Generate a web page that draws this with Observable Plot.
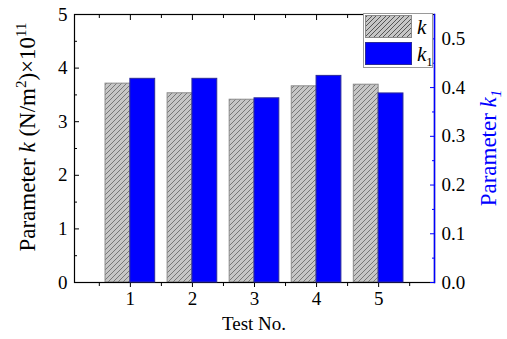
<!DOCTYPE html>
<html><head><meta charset="utf-8">
<script src="https://cdn.jsdelivr.net/npm/d3@7"></script>
<script src="https://cdn.jsdelivr.net/npm/@observablehq/plot@0.6"></script>
<style>
body{margin:0;background:#fff}
#c{position:relative;width:507px;height:339px;font-family:"Liberation Serif",serif}
#c svg{position:absolute;left:0;top:0}
#legend{position:absolute;left:363px;top:13px;width:70px;height:55px;border:1px solid #9a9a9a;background:#fff;box-sizing:border-box}
#legend .sw{position:absolute;left:1px;width:47px;height:23px;box-sizing:border-box}
#legend .lb{position:absolute;left:53px;font-size:21px;font-style:italic;line-height:20px}
</style></head><body>
<div id="c"><div id="legend"></div></div>
<script>
const tests = [1, 2, 3, 4, 5];
const kValues = [3.71, 3.53, 3.41, 3.66, 3.69];
const k1Values = [0.418, 0.418, 0.378, 0.424, 0.388];
const leftTicks = [0, 1, 2, 3, 4, 5];
const leftMinor = [0.5, 1.5, 2.5, 3.5, 4.5];
const rightTicks = [0, 0.1, 0.2, 0.3, 0.4, 0.5];
const rightMinor = [0.05, 0.15, 0.25, 0.35, 0.45];
const xMinor = [0.5, 1.5, 2.5, 3.5, 4.5, 5.5];

const kData = tests.map((t, i) => ({t, v: kValues[i]}));
const k1Data = tests.map((t, i) => ({t, v: k1Values[i]}));

const W = 507, H = 339;
const FONT = "Liberation Serif";
const margins = {marginLeft: 74, marginRight: 73, marginTop: 14, marginBottom: 57};
const xDomain = [0.1, 5.9];
const style = {fontFamily: FONT, fontSize: "19px", color: "black", background: "transparent", overflow: "visible"};
const hatch = "url(#hatch)";

const p1 = Plot.plot({
  width: W, height: H, ...margins, style,
  x: {domain: xDomain, axis: null},
  y: {domain: [0, 5], axis: null},
  marks: [
    Plot.rectY(kData, {x1: d => d.t - 0.4, x2: d => d.t, y1: 0, y2: "v", fill: hatch, stroke: "#8a8a8a", strokeWidth: 1}),
    Plot.axisY({ticks: leftTicks, tickSize: -5, tickPadding: 12, tickFormat: d3.format("d"), anchor: "left", label: null}),
    Plot.axisY({ticks: leftMinor, tickSize: -3, tickFormat: () => "", anchor: "left", label: null}),
    Plot.axisX({ticks: tests, tickSize: 5, tickPadding: 4, tickFormat: d3.format("d"), anchor: "bottom", label: null}),
    Plot.axisX({ticks: xMinor, tickSize: 4, tickFormat: () => "", anchor: "bottom", label: null}),
    Plot.axisX({ticks: tests, tickSize: -5, tickFormat: () => "", anchor: "top", label: null}),
    Plot.axisX({ticks: xMinor, tickSize: -3, tickFormat: () => "", anchor: "top", label: null}),
    Plot.frame({stroke: "black", strokeWidth: 1.2})
  ]
});

const p2 = Plot.plot({
  width: W, height: H, ...margins, style,
  x: {domain: xDomain, axis: null},
  y: {domain: [0, 0.55], axis: null},
  marks: [
    Plot.rectY(k1Data, {x1: "t", x2: d => d.t + 0.4, y1: 0, y2: "v", fill: "#0000ff", stroke: "#2a2a9a", strokeWidth: 1}),
    Plot.axisY({ticks: rightTicks, tickSize: -5, tickPadding: 12, tickFormat: d3.format(".1f"), anchor: "right", stroke: "#0000ff", color: "black", label: null}),
    Plot.axisY({ticks: rightMinor, tickSize: -3, tickFormat: () => "", anchor: "right", stroke: "#0000ff", label: null}),
    Plot.frame({anchor: "right", stroke: "#0000ff", strokeWidth: 1.5})
  ]
});

const c = document.getElementById("c");
c.insertBefore(p1, c.firstChild);
c.insertBefore(p2, document.getElementById("legend"));

// hatch pattern
const defs = d3.select(p1).insert("defs", ":first-child");
const pat = defs.append("pattern").attr("id", "hatch").attr("patternUnits", "userSpaceOnUse").attr("width", 5).attr("height", 5);
pat.append("rect").attr("width", 5).attr("height", 5).attr("fill", "#c6c6c6");
pat.append("path").attr("d", "M0,5L5,0M-1,1L1,-1M4,6L6,4").attr("stroke", "#555").attr("stroke-width", 0.7);

// left title
const s1 = d3.select(p1);
const t1 = s1.append("text").attr("transform", "translate(35,137) rotate(-90)").attr("text-anchor", "middle")
  .attr("font-size", 23).attr("fill", "black");
t1.append("tspan").text("Parameter ");
t1.append("tspan").attr("font-style", "italic").text("k");
t1.append("tspan").text(" (N/m");
t1.append("tspan").attr("font-size", 15).attr("dy", -9).text("2");
t1.append("tspan").attr("dy", 9).text(")×10");
t1.append("tspan").attr("font-size", 15).attr("dy", -9).text("11");

// x title
s1.append("text").attr("x", 254).attr("y", 330).attr("text-anchor", "middle").attr("font-size", 19).attr("fill", "black").text("Test No.");

// right title
const t2 = d3.select(p2).append("text").attr("transform", "translate(496,148) rotate(-90)").attr("text-anchor", "middle")
  .attr("font-size", 23).attr("fill", "#0000ff");
t2.append("tspan").text("Parameter ");
t2.append("tspan").attr("font-style", "italic").text("k");
t2.append("tspan").attr("font-style", "italic").attr("font-size", 15).attr("dy", 5).text("1");

[p1, p2].forEach(s => d3.select(s).selectAll("text").attr("font-family", FONT));

// legend
const lg = document.getElementById("legend");
lg.innerHTML = `<div class="sw" style="top:1px;background:#c6c6c6;border:1px solid #8a8a8a;background-image:repeating-linear-gradient(-45deg,#c6c6c6 0 2.6px,#555 2.6px 3.3px)"></div>
<div class="lb" style="top:3px">k</div>
<div class="sw" style="top:28px;background:#0000ff;border:1px solid #2a2a9a"></div>
<div class="lb" style="top:30px">k<sub style="font-size:13px;font-style:normal">1</sub></div>`;
</script>
</body></html>
